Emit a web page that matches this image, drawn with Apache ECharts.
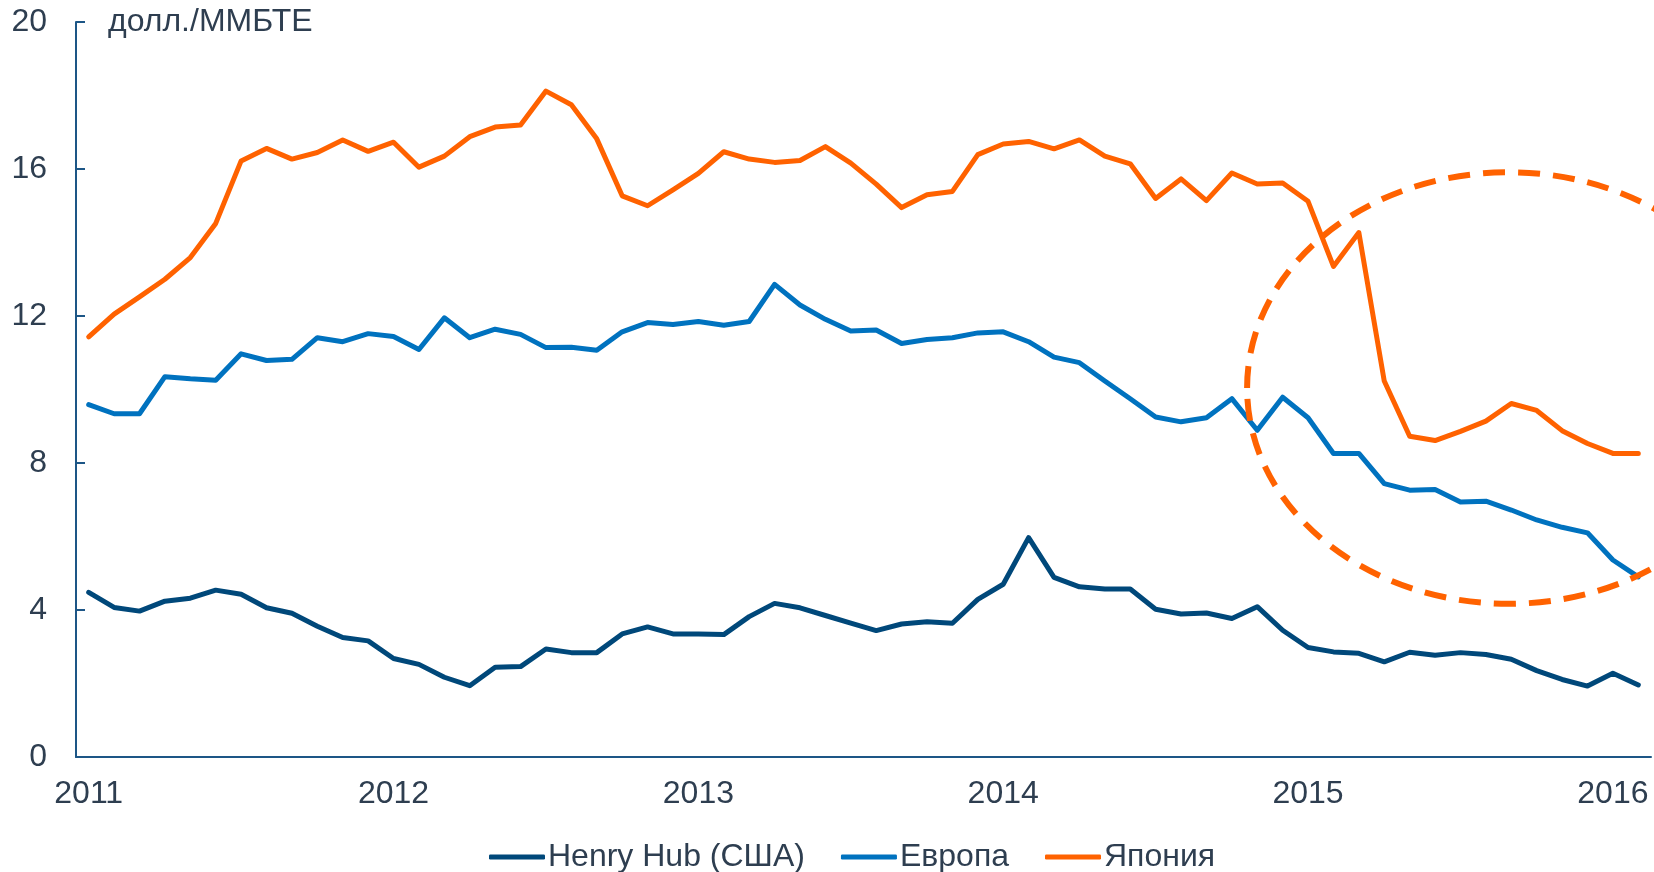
<!DOCTYPE html>
<html lang="ru">
<head>
    <meta charset="UTF-8">
    <title>Цены на газ</title>
    <script src="https://cdn.jsdelivr.net/npm/echarts@6/dist/echarts.min.js"></script>
    <style>
        html, body { margin: 0; padding: 0; background: #fff; }
        #main { width: 1654px; height: 872px; }
    </style>
</head>
<body>
<div id="main"></div>

<script type="text/javascript">
    // месяцы янв 2011 - фев 2016
    var months = [
        '2011-01','2011-02','2011-03','2011-04','2011-05','2011-06','2011-07','2011-08','2011-09','2011-10','2011-11','2011-12',
        '2012-01','2012-02','2012-03','2012-04','2012-05','2012-06','2012-07','2012-08','2012-09','2012-10','2012-11','2012-12',
        '2013-01','2013-02','2013-03','2013-04','2013-05','2013-06','2013-07','2013-08','2013-09','2013-10','2013-11','2013-12',
        '2014-01','2014-02','2014-03','2014-04','2014-05','2014-06','2014-07','2014-08','2014-09','2014-10','2014-11','2014-12',
        '2015-01','2015-02','2015-03','2015-04','2015-05','2015-06','2015-07','2015-08','2015-09','2015-10','2015-11','2015-12',
        '2016-01','2016-02'
    ];

    var henryHub = [
        4.48, 4.07, 3.97, 4.24, 4.32, 4.54, 4.43, 4.06, 3.91, 3.56, 3.25, 3.16,
        2.68, 2.52, 2.17, 1.94, 2.44, 2.46, 2.94, 2.84, 2.84, 3.35, 3.54, 3.35,
        3.35, 3.33, 3.82, 4.18, 4.06, 3.85, 3.64, 3.44, 3.62, 3.68, 3.64, 4.29,
        4.70, 5.97, 4.89, 4.63, 4.57, 4.57, 4.02, 3.89, 3.92, 3.77, 4.09, 3.45,
        2.98, 2.86, 2.82, 2.59, 2.85, 2.77, 2.84, 2.79, 2.66, 2.35, 2.11, 1.93,
        2.28, 1.96
    ];

    var europe = [
        9.59, 9.34, 9.34, 10.35, 10.29, 10.25, 10.97, 10.79, 10.82, 11.41, 11.30, 11.52,
        11.44, 11.09, 11.95, 11.41, 11.64, 11.50, 11.14, 11.15, 11.07, 11.57, 11.82, 11.77,
        11.85, 11.75, 11.85, 12.86, 12.30, 11.91, 11.59, 11.62, 11.25, 11.36, 11.41, 11.54,
        11.57, 11.30, 10.88, 10.73, 10.23, 9.75, 9.25, 9.12, 9.23, 9.75, 8.89, 9.79,
        9.23, 8.26, 8.26, 7.44, 7.26, 7.28, 6.94, 6.96, 6.72, 6.45, 6.25, 6.10,
        5.36, 4.90
    ];

    var japan = [
        11.43, 12.05, 12.52, 13.00, 13.59, 14.52, 16.22, 16.56, 16.27, 16.45, 16.79, 16.48,
        16.73, 16.05, 16.35, 16.88, 17.14, 17.20, 18.12, 17.75, 16.82, 15.27, 15.00, 15.43,
        15.88, 16.47, 16.27, 16.18, 16.23, 16.61, 16.16, 15.59, 14.95, 15.30, 15.39, 16.39,
        16.68, 16.75, 16.55, 16.79, 16.35, 16.14, 15.20, 15.73, 15.14, 15.89, 15.59, 15.62,
        15.12, 13.35, 14.27, 10.23, 8.73, 8.61, 8.86, 9.14, 9.62, 9.43, 8.88, 8.53,
        8.26, 8.26
    ];

    var yTicks = [0, 4, 8, 12, 16, 20];

    var textColor = '#2e3e50';
    var axisColor = '#1d5686';
    var fontSize = 32;

    var myChart = echarts.init(document.getElementById('main'));

    var option = {
        animation: false,
        backgroundColor: '#fff',
        title: {
            text: 'долл./ММБТЕ',
            left: 108,
            top: 6,
            padding: 0,
            textStyle: {
                fontFamily: 'Liberation Sans',
                fontSize: fontSize,
                fontWeight: 'normal',
                color: textColor
            }
        },
        grid: {
            left: 76,
            right: 3,
            top: 22,
            bottom: 115
        },
        legend: {
            left: 484,
            top: 836,
            icon: 'roundRect',
            itemWidth: 56,
            itemHeight: 5,
            itemGap: 36,
            textStyle: {
                fontFamily: 'Liberation Sans',
                fontSize: fontSize,
                color: textColor,
                padding: [0, 0, 0, -2]
            },
            data: ['Henry Hub (США)', 'Европа', 'Япония']
        },
        xAxis: {
            type: 'category',
            boundaryGap: true,
            data: months,
            axisLine: { lineStyle: { color: axisColor, width: 2 } },
            axisTick: {
                inside: true,
                length: 9,
                interval: 11,
                lineStyle: { color: axisColor, width: 2 }
            },
            axisLabel: {
                interval: 11,
                margin: 21,
                fontFamily: 'Liberation Sans',
                fontSize: fontSize,
                color: textColor,
                formatter: function (v) { return v.slice(0, 4); }
            },
            splitLine: { show: false }
        },
        yAxis: {
            type: 'value',
            min: yTicks[0],
            max: yTicks[yTicks.length - 1],
            interval: 4,
            axisLine: { show: true, lineStyle: { color: axisColor, width: 2 } },
            axisTick: {
                show: true,
                inside: true,
                length: 9,
                lineStyle: { color: axisColor, width: 2 }
            },
            axisLabel: {
                margin: 29,
                fontFamily: 'Liberation Sans',
                fontSize: fontSize,
                color: textColor
            },
            splitLine: { show: false }
        },
        series: [
            {
                name: 'Henry Hub (США)',
                type: 'line',
                data: henryHub,
                symbol: 'none',
                itemStyle: { color: '#00487a' },
                lineStyle: { color: '#00487a', width: 5, join: 'round', cap: 'round' }
            },
            {
                name: 'Европа',
                type: 'line',
                data: europe,
                symbol: 'none',
                itemStyle: { color: '#0072bf' },
                lineStyle: { color: '#0072bf', width: 5, join: 'round', cap: 'round' }
            },
            {
                name: 'Япония',
                type: 'line',
                data: japan,
                symbol: 'none',
                itemStyle: { color: '#ff6200' },
                lineStyle: { color: '#ff6200', width: 5, join: 'round', cap: 'round' }
            }
        ]
    };

    myChart.setOption(option);

    // пунктирный эллипс вокруг 2015 года (в координатах осей)
    var ellCenterMonth = 55.9, ellCenterValue = 10.04;
    var ellHalfMonths = 10.3, ellHalfValue = 5.87;

    var p0 = myChart.convertToPixel({ gridIndex: 0 }, [months[0], 0]);
    var p1 = myChart.convertToPixel({ gridIndex: 0 }, [months[1], 0]);
    var step = p1[0] - p0[0];
    var cx = p0[0] + ellCenterMonth * step;
    var cy = myChart.convertToPixel({ yAxisIndex: 0 }, ellCenterValue);
    var ry = myChart.convertToPixel({ yAxisIndex: 0 }, ellCenterValue - ellHalfValue) - cy;

    myChart.setOption({
        graphic: [
            {
                type: 'ellipse',
                z: 100,
                shape: { cx: cx, cy: cy, rx: ellHalfMonths * step, ry: ry },
                style: {
                    fill: 'none',
                    stroke: '#ff6200',
                    lineWidth: 6,
                    lineDash: [22, 13]
                }
            }
        ]
    });
</script>

</body>
</html>
